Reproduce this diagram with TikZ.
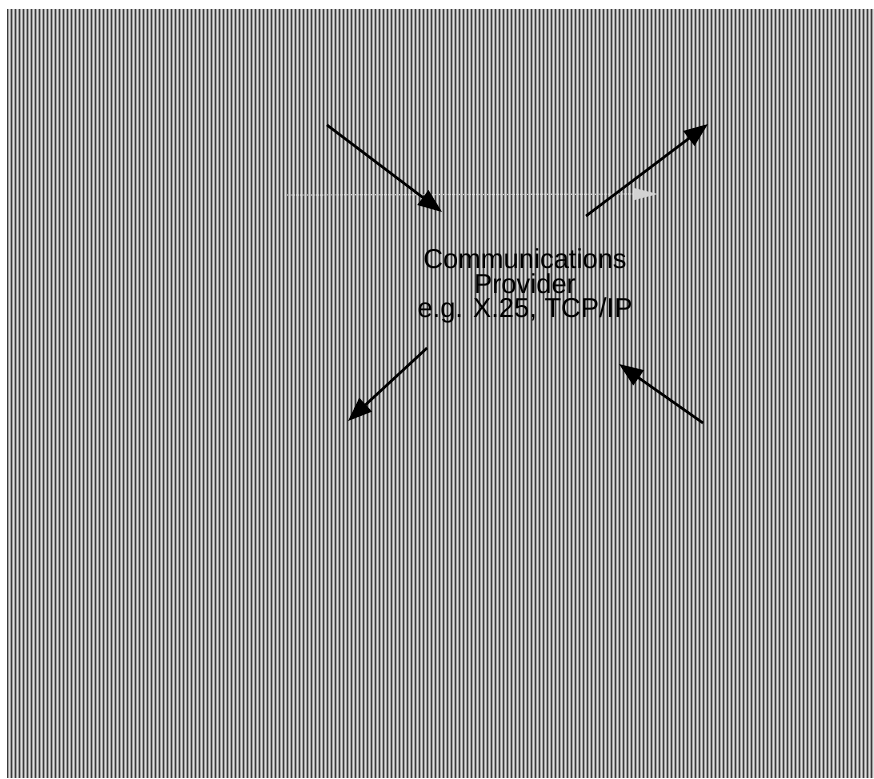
\documentclass[tikz,border=0pt]{standalone}
\usepackage{fontspec}
\setmainfont{Liberation Sans}
\usetikzlibrary{arrows.meta}

\begin{document}
\begin{tikzpicture}[x=1pt,y=-1pt,
    flow/.style={line width=2.6pt, -{Triangle[length=24pt,width=18pt]}},
    ghost/.style={white!70!gray, line width=1.2pt, densely dotted},
    provtext/.style={font=\fontsize{27.3}{24.8}\selectfont, align=center}]

    \useasboundingbox (0,0) rectangle (874,778);
    % striped backdrop
    \fill[black!37] (7,9) rectangle (874,778);
    \foreach \x in {7,11,...,871}
        {\draw[black!78, line width=1pt] (\x+0.5,9) -- (\x+0.5,778);
         \draw[white!75!gray, line width=0.8pt] (\x+2.5,9) -- (\x+2.5,778);}

    \node[provtext] (prov) at (525,286) {Communications\\Provider\\e.g. X.25, TCP/IP};

    \coordinate (inTop) at (327,125);
    \coordinate (provNW) at (442,212);
    \coordinate (provNE) at (586,216);
    \coordinate (outTop) at (708,124);
    \coordinate (provSW) at (427,348);
    \coordinate (outLow) at (348,421);
    \coordinate (inLow) at (703,423);
    \coordinate (provSE) at (619,364);
    \coordinate (ghostL) at (287,195);
    \coordinate (ghostR) at (658,194);

    \draw[ghost, -{Triangle[length=24pt,width=12pt,fill=white!65!gray,line width=0pt]}] (ghostL) -- (ghostR);

    \draw[flow] (inTop) -- (provNW);
    \draw[flow] (provNE) -- (outTop);
    \draw[flow] (provSW) -- (outLow);
    \draw[flow] (inLow) -- (provSE);
\end{tikzpicture}
\end{document}
